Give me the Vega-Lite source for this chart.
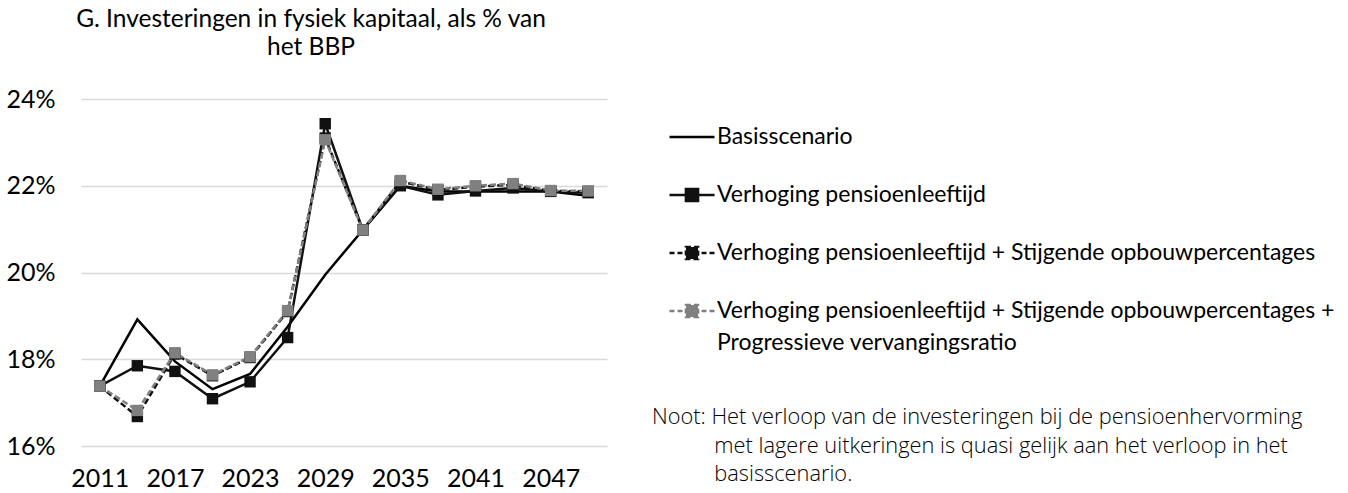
{
  "$schema": "https://vega.github.io/schema/vega-lite/v6.json",
  "width": 526,
  "height": 347,
  "autosize": {"type": "none"},
  "padding": {"left": 81, "top": 99, "right": 741, "bottom": 47},
  "background": "#ffffff",
  "config": {"view": {"stroke": null}, "style": {"guide-label": {"lineHeight": 32}}},
  "title": {
    "text": ["G. Investeringen in fysiek kapitaal, als % van", "het BBP"],
    "anchor": "middle",
    "frame": "group",
    "dx": -33,
    "offset": 27,
    "font": "Lato",
    "fontSize": 24.5,
    "fontWeight": "normal",
    "color": "#000000",
    "lineHeight": 28
  },
  "datasets": {
    "d": [
      {"year": 2011, "series": "Basisscenario", "value": 17.38},
      {"year": 2014, "series": "Basisscenario", "value": 18.92},
      {"year": 2017, "series": "Basisscenario", "value": 17.95},
      {"year": 2020, "series": "Basisscenario", "value": 17.31},
      {"year": 2023, "series": "Basisscenario", "value": 17.66},
      {"year": 2026, "series": "Basisscenario", "value": 18.75},
      {"year": 2029, "series": "Basisscenario", "value": 19.95},
      {"year": 2032, "series": "Basisscenario", "value": 20.98},
      {"year": 2035, "series": "Basisscenario", "value": 22.0},
      {"year": 2038, "series": "Basisscenario", "value": 21.87},
      {"year": 2041, "series": "Basisscenario", "value": 21.87},
      {"year": 2044, "series": "Basisscenario", "value": 21.87},
      {"year": 2047, "series": "Basisscenario", "value": 21.87},
      {"year": 2050, "series": "Basisscenario", "value": 21.77},
      {"year": 2011, "series": "Verhoging pensioenleeftijd", "value": 17.38},
      {"year": 2014, "series": "Verhoging pensioenleeftijd", "value": 17.85},
      {"year": 2017, "series": "Verhoging pensioenleeftijd", "value": 17.72},
      {"year": 2020, "series": "Verhoging pensioenleeftijd", "value": 17.09},
      {"year": 2023, "series": "Verhoging pensioenleeftijd", "value": 17.48},
      {"year": 2026, "series": "Verhoging pensioenleeftijd", "value": 18.5},
      {"year": 2029, "series": "Verhoging pensioenleeftijd", "value": 23.43},
      {"year": 2032, "series": "Verhoging pensioenleeftijd", "value": 20.98},
      {"year": 2035, "series": "Verhoging pensioenleeftijd", "value": 22.0},
      {"year": 2038, "series": "Verhoging pensioenleeftijd", "value": 21.79},
      {"year": 2041, "series": "Verhoging pensioenleeftijd", "value": 21.88},
      {"year": 2044, "series": "Verhoging pensioenleeftijd", "value": 21.95},
      {"year": 2047, "series": "Verhoging pensioenleeftijd", "value": 21.87},
      {"year": 2050, "series": "Verhoging pensioenleeftijd", "value": 21.84},
      {"year": 2011, "series": "Verhoging pensioenleeftijd + Stijgende opbouwpercentages", "value": 17.38},
      {"year": 2014, "series": "Verhoging pensioenleeftijd + Stijgende opbouwpercentages", "value": 16.68},
      {"year": 2017, "series": "Verhoging pensioenleeftijd + Stijgende opbouwpercentages", "value": 18.12},
      {"year": 2020, "series": "Verhoging pensioenleeftijd + Stijgende opbouwpercentages", "value": 17.62},
      {"year": 2023, "series": "Verhoging pensioenleeftijd + Stijgende opbouwpercentages", "value": 18.04},
      {"year": 2026, "series": "Verhoging pensioenleeftijd + Stijgende opbouwpercentages", "value": 19.1},
      {"year": 2029, "series": "Verhoging pensioenleeftijd + Stijgende opbouwpercentages", "value": 23.1},
      {"year": 2032, "series": "Verhoging pensioenleeftijd + Stijgende opbouwpercentages", "value": 20.98},
      {"year": 2035, "series": "Verhoging pensioenleeftijd + Stijgende opbouwpercentages", "value": 22.1},
      {"year": 2038, "series": "Verhoging pensioenleeftijd + Stijgende opbouwpercentages", "value": 21.9},
      {"year": 2041, "series": "Verhoging pensioenleeftijd + Stijgende opbouwpercentages", "value": 21.98},
      {"year": 2044, "series": "Verhoging pensioenleeftijd + Stijgende opbouwpercentages", "value": 22.02},
      {"year": 2047, "series": "Verhoging pensioenleeftijd + Stijgende opbouwpercentages", "value": 21.88},
      {"year": 2050, "series": "Verhoging pensioenleeftijd + Stijgende opbouwpercentages", "value": 21.87},
      {"year": 2011, "series": "Verhoging pensioenleeftijd + Stijgende opbouwpercentages + Progressieve vervangingsratio", "value": 17.38},
      {"year": 2014, "series": "Verhoging pensioenleeftijd + Stijgende opbouwpercentages + Progressieve vervangingsratio", "value": 16.82},
      {"year": 2017, "series": "Verhoging pensioenleeftijd + Stijgende opbouwpercentages + Progressieve vervangingsratio", "value": 18.15},
      {"year": 2020, "series": "Verhoging pensioenleeftijd + Stijgende opbouwpercentages + Progressieve vervangingsratio", "value": 17.64},
      {"year": 2023, "series": "Verhoging pensioenleeftijd + Stijgende opbouwpercentages + Progressieve vervangingsratio", "value": 18.06},
      {"year": 2026, "series": "Verhoging pensioenleeftijd + Stijgende opbouwpercentages + Progressieve vervangingsratio", "value": 19.12},
      {"year": 2029, "series": "Verhoging pensioenleeftijd + Stijgende opbouwpercentages + Progressieve vervangingsratio", "value": 23.06},
      {"year": 2032, "series": "Verhoging pensioenleeftijd + Stijgende opbouwpercentages + Progressieve vervangingsratio", "value": 20.98},
      {"year": 2035, "series": "Verhoging pensioenleeftijd + Stijgende opbouwpercentages + Progressieve vervangingsratio", "value": 22.12},
      {"year": 2038, "series": "Verhoging pensioenleeftijd + Stijgende opbouwpercentages + Progressieve vervangingsratio", "value": 21.92},
      {"year": 2041, "series": "Verhoging pensioenleeftijd + Stijgende opbouwpercentages + Progressieve vervangingsratio", "value": 22.0},
      {"year": 2044, "series": "Verhoging pensioenleeftijd + Stijgende opbouwpercentages + Progressieve vervangingsratio", "value": 22.05},
      {"year": 2047, "series": "Verhoging pensioenleeftijd + Stijgende opbouwpercentages + Progressieve vervangingsratio", "value": 21.89},
      {"year": 2050, "series": "Verhoging pensioenleeftijd + Stijgende opbouwpercentages + Progressieve vervangingsratio", "value": 21.88}
    ]
  },
  "data": {"name": "d"},
  "encoding": {
    "x": {
      "field": "year",
      "type": "quantitative",
      "scale": {"domain": [2009.5, 2051.5], "nice": false, "zero": false},
      "axis": {
        "values": [2011, 2017, 2023, 2029, 2035, 2041, 2047],
        "format": "d",
        "grid": false,
        "domain": false,
        "ticks": false,
        "labelPadding": 20,
        "labelFont": "Lato",
        "labelFontSize": 25,
        "labelColor": "#000000",
        "title": null
      }
    },
    "y": {
      "field": "value",
      "type": "quantitative",
      "scale": {"domain": [16, 24], "nice": false, "zero": false},
      "axis": {
        "values": [16, 18, 20, 22, 24],
        "labelExpr": "datum.value + '%'",
        "grid": true,
        "gridColor": "#d9d9d9",
        "gridWidth": 1.5,
        "domain": false,
        "ticks": false,
        "labelPadding": 26,
        "labelFont": "Lato",
        "labelFontSize": 25,
        "labelColor": "#000000",
        "title": null
      }
    }
  },
  "layer": [
    {
      "transform": [{"filter": "datum.series == 'Basisscenario' || datum.series == 'Verhoging pensioenleeftijd'"}],
      "mark": {"type": "line", "strokeWidth": 2.5},
      "encoding": {
        "color": {
          "field": "series", "type": "nominal", "legend": null,
          "scale": {
            "domain": ["Verhoging pensioenleeftijd + Stijgende opbouwpercentages + Progressieve vervangingsratio", "Basisscenario", "Verhoging pensioenleeftijd", "Verhoging pensioenleeftijd + Stijgende opbouwpercentages"],
            "range": ["#808080", "#000000", "#111111", "#111111"]
          }
        }
      }
    },
    {
      "transform": [{"filter": "datum.series != 'Basisscenario' && datum.series != 'Verhoging pensioenleeftijd'"}],
      "mark": {"type": "line", "strokeWidth": 2.5, "strokeDash": [6, 3]},
      "encoding": {
        "color": {"field": "series", "type": "nominal", "legend": null}
      }
    },
    {
      "transform": [{"filter": "datum.series != 'Basisscenario'"}],
      "mark": {"type": "point", "shape": "square", "filled": true, "size": 130, "opacity": 1},
      "encoding": {
        "fill": {
          "field": "series", "type": "nominal",
          "scale": {
            "domain": ["Basisscenario", "Verhoging pensioenleeftijd", "Verhoging pensioenleeftijd + Stijgende opbouwpercentages", "Verhoging pensioenleeftijd + Stijgende opbouwpercentages + Progressieve vervangingsratio"],
            "range": ["#000000", "#111111", "#111111", "#808080"]
          }
        }
      }
    },
    {
      "mark": {"type": "point", "opacity": 0, "filled": true},
      "encoding": {
        "fill": {
          "field": "series", "type": "nominal",
          "legend": {
            "orient": "none",
            "legendX": 571,
            "legendY": 14,
            "title": ["Noot: Het verloop van de investeringen bij de pensioenhervorming", "\u200b\u00a0\u00a0\u00a0\u00a0\u00a0\u00a0\u00a0\u00a0\u00a0\u00a0\u00a0met lagere uitkeringen is quasi gelijk aan het verloop in het", "\u200b\u00a0\u00a0\u00a0\u00a0\u00a0\u00a0\u00a0\u00a0\u00a0\u00a0\u00a0basisscenario."],
            "titleOrient": "bottom",
            "titleAnchor": "start",
            "titleAlign": "left",
            "titleFont": "Open Sans",
            "titleFontWeight": 300,
            "titleFontSize": 21.8,
            "titleLineHeight": 28.5,
            "titleColor": "#000000",
            "titlePadding": 52,
            "titleLimit": 2000,
            "labelFont": "Lato",
            "labelFontSize": 23,
            "labelColor": "#000000",
            "labelLimit": 2000,
            "labelOffset": 1,
            "labelExpr": "datum.label == 'Verhoging pensioenleeftijd + Stijgende opbouwpercentages + Progressieve vervangingsratio' ? ['Verhoging pensioenleeftijd + Stijgende opbouwpercentages +', 'Progressieve vervangingsratio'] : datum.label",
            "symbolSize": 2025,
            "symbolStrokeWidth": 2.5,
            "symbolOffset": 16,
            "symbolOpacity": 1,
            "rowPadding": 22
          }
        },
        "stroke": {
          "field": "series", "type": "nominal",
          "scale": {
            "domain": ["Basisscenario", "Verhoging pensioenleeftijd", "Verhoging pensioenleeftijd + Stijgende opbouwpercentages", "Verhoging pensioenleeftijd + Stijgende opbouwpercentages + Progressieve vervangingsratio"],
            "range": ["#000000", "#111111", "#111111", "#808080"]
          }
        },
        "shape": {
          "field": "series", "type": "nominal",
          "scale": {
            "domain": ["Basisscenario", "Verhoging pensioenleeftijd", "Verhoging pensioenleeftijd + Stijgende opbouwpercentages", "Verhoging pensioenleeftijd + Stijgende opbouwpercentages + Progressieve vervangingsratio"],
            "range": ["M-1,0H1", "M-1,0H1M-0.27,-0.27H0.27V0.27H-0.27Z", "M-1,0H1M-0.27,-0.27H0.27V0.27H-0.27Z", "M-1,0H1M-0.27,-0.27H0.27V0.27H-0.27Z"]
          }
        },
        "strokeDash": {
          "field": "series", "type": "nominal",
          "scale": {
            "domain": ["Basisscenario", "Verhoging pensioenleeftijd", "Verhoging pensioenleeftijd + Stijgende opbouwpercentages", "Verhoging pensioenleeftijd + Stijgende opbouwpercentages + Progressieve vervangingsratio"],
            "range": [[1, 0], [1, 0], [5, 3], [5, 3]]
          }
        }
      }
    }
  ]
}
